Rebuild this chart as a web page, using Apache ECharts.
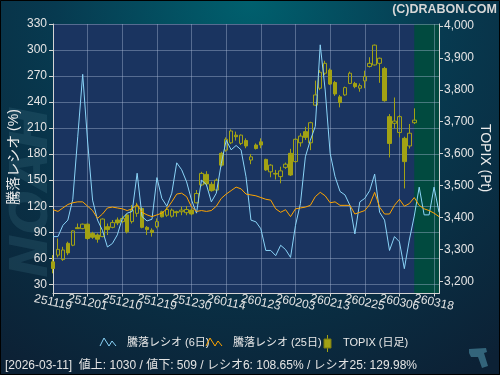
<!DOCTYPE html>
<html><head><meta charset="utf-8">
<script src="https://cdn.jsdelivr.net/npm/echarts@6/dist/echarts.min.js"></script>
<style>html,body{margin:0;padding:0;background:#0b2438}#c{width:500px;height:375px}</style>
</head><body><div id="c"></div>
<script>
// ---- data ----
const categories = [
 '251119','251120','251121','251125','251126','251127','251128',
 '251201','251202','251203','251204','251205','251208','251209',
 '251210','251211','251212','251215','251216','251217','251218',
 '251219','251222','251223','251224','251225','251226','251229',
 '251230','260105','260106','260107','260108','260109','260113',
 '260114','260115','260116','260119','260120','260121','260122',
 '260123','260126','260127','260128','260129','260130','260202',
 '260203','260204','260205','260206','260209','260210','260212',
 '260213','260216','260217','260218','260219','260220','260224',
 '260225','260226','260227','260302','260303','260304','260305',
 '260306','260309','260310','260311','260312','260313','260316',
 '260318','260319'
];
const ratio6 = [
 85,85,98,104,128,200,272,194,127,104,92,73,77,87,106,112,
 114,158,108,103,105,153,129,120,135,170,162,148,127,112,150,145,
 125,135,169,196,185,190,185,154,104,102,94,69,69,63,75,70,
 61,98,123,177,196,212,306,254,181,154,137,133,121,88,125,
 129,138,157,113,104,69,85,79,48,81,108.65,142,110,110,142,113
];
const ratio25 = [
 116,114,118,122,124,125,125,120,115,106,111,118,119,118,117,115,
 117,122,113,110,108,110,112,117,125,134,135,131,119,114,115,114,
 115,120,129,134,138,142,140,134,133,132,130,128,127,117,113,116,
 108,117,118,119,121,131,136,132,124,125,121,121,121,111,113,
 115,122,136,119,111,111,121,128,120,123,129.98,121,117,115,112,108
];
// [open, close, low, high]
const topixOHLC = [
 [3261,3240,3225,3282],[3282,3300,3275,3334],[3268,3298,3264,3308],[3319,3289,3282,3324],
 [3313,3358,3310,3360],[3368,3365,3364,3381],[3365,3379,3363,3381],[3379,3334,3330,3381],
 [3350,3338,3333,3355],[3345,3332,3321,3350],[3340,3395,3338,3397],[3371,3362,3345,3381],
 [3369,3384,3366,3392],[3392,3383,3376,3400],[3387,3397,3382,3405],[3408,3355,3350,3412],
 [3387,3423,3381,3439],[3413,3434,3402,3446],[3428,3369,3366,3432],[3369,3362,3345,3373],
 [3360,3353,3340,3366],[3371,3387,3366,3397],[3418,3402,3400,3421],[3407,3425,3402,3432],
 [3404,3423,3400,3428],[3418,3415,3402,3421],[3418,3423,3407,3434],[3415,3425,3407,3436],
 [3423,3411,3407,3428],[3446,3475,3444,3486],[3502,3538,3498,3543],[3535,3505,3498,3545],
 [3504,3484,3481,3512],[3486,3517,3481,3522],[3601,3564,3559,3606],[3611,3645,3606,3651],
 [3634,3671,3630,3676],[3658,3653,3641,3669],[3632,3658,3627,3660],[3641,3624,3617,3648],
 [3580,3590,3567,3599],[3627,3616,3613,3632],[3637,3627,3617,3648],[3582,3549,3546,3584],
 [3543,3564,3526,3567],[3538,3536,3519,3549],[3528,3546,3507,3559],[3557,3567,3552,3572],
 [3601,3533,3530,3615],[3575,3645,3572,3648],[3634,3655,3622,3664],[3669,3651,3643,3684],
 [3634,3697,3611,3700],[3752,3784,3749,3829],[3805,3855,3799,3862],[3852,3883,3846,3891],
 [3862,3818,3815,3867],[3823,3787,3781,3828],[3778,3760,3745,3784],[3784,3807,3781,3810],
 [3820,3852,3818,3857],[3820,3810,3805,3825],[3805,3813,3794,3820],[3828,3842,3805,3860],
 [3873,3883,3870,3902],[3878,3940,3876,3942],[3883,3899,3822,3901],[3867,3766,3763,3872],
 [3716,3632,3588,3724],[3695,3702,3679,3776],[3666,3716,3651,3721],[3648,3575,3491,3653],
 [3624,3664,3616,3693],[3697,3705,3693,3742]
];
const leftTicks = [30,60,90,120,150,180,210,240,270,300,330];
const rightTicks = [3200,3300,3400,3500,3600,3700,3800,3900,4000];
const statusDate = '2026-03-11';
const advances = 1030, declines = 509, lastR6 = '108.65', lastR25 = '129.98';
const seriesNames = ['騰落レシオ (6日)', '騰落レシオ (25日)', 'TOPIX (日足)'];

// ---- chart ----
const FONT = '"Liberation Sans", "Noto Sans CJK JP", sans-serif';
const GRIDC = 'rgba(170,185,215,0.42)';
const AXC = '#d4d4d4';
const CANDLE = '#a2a214';
const lastIdx = topixOHLC.length - 1;
const chart = echarts.init(document.getElementById('c'), null, {renderer: 'canvas'});
const fmtK = v => String(v).replace(/\B(?=(\d{3})+(?!\d))/g, ',');
const xLabelBase = {rotate: -12, align: 'center', verticalAlign: 'middle', margin: 9,
  color: '#e4e4e4', fontSize: 12, fontFamily: FONT};

const option = {
  animation: false,
  backgroundColor: {type: 'radial', x: 0.5, y: 0, r: 1.15, colorStops: [
    {offset: 0, color: '#00606e'}, {offset: 0.45, color: '#073a50'}, {offset: 1, color: '#0c2135'}]},
  grid: {left: 53, right: 61, top: 24, bottom: 81.5, show: true, backgroundColor: '#1a3460', borderWidth: 0, z: 0},
  xAxis: [
    {type: 'category', data: categories, boundaryGap: false, z: 2, position: 'bottom',
     axisLine: {lineStyle: {color: AXC, width: 1}},
     axisTick: {interval: 6, length: 3, lineStyle: {color: AXC}},
     axisLabel: Object.assign({interval: i => i % 14 === 0}, xLabelBase),
     splitLine: {show: true, interval: 6, lineStyle: {color: GRIDC, width: 1}}},
    {type: 'category', data: categories, boundaryGap: false, z: 2, position: 'bottom', offset: 0,
     axisLine: {show: false}, axisTick: {show: false}, splitLine: {show: false},
     axisLabel: Object.assign({interval: i => i % 14 === 7}, xLabelBase)}
  ],
  yAxis: [
    {type: 'value', min: 19.4, max: 330, position: 'left', z: 2,
     axisLine: {show: true, lineStyle: {color: AXC}},
     axisTick: {show: true, length: 4, customValues: leftTicks, lineStyle: {color: AXC}},
     axisLabel: {customValues: leftTicks, margin: 6, color: '#e4e4e4', fontSize: 12, fontFamily: FONT},
     splitLine: {show: true, lineStyle: {color: GRIDC, width: 1}}},
    {type: 'value', min: 3161.7, max: 4006.3, position: 'right', z: 2,
     axisLine: {show: true, lineStyle: {color: AXC}},
     axisTick: {show: true, length: 4, customValues: rightTicks, lineStyle: {color: AXC}},
     axisLabel: {customValues: rightTicks, margin: 5, color: '#e4e4e4', fontSize: 12, fontFamily: FONT, formatter: fmtK},
     splitLine: {show: false}}
  ],
  series: [
    {type: 'line', name: 'future', data: categories.map(() => null), z: 1, silent: true,
     markArea: {silent: true, itemStyle: {color: '#014a3f'},
       data: [[{xAxis: categories[lastIdx]}, {xAxis: categories[categories.length - 1]}]]}},
    {type: 'candlestick', name: seriesNames[2], yAxisIndex: 1, data: topixOHLC, barWidth: 4, z: 3,
     itemStyle: {color: 'rgba(0,0,0,0)', color0: CANDLE, borderColor: CANDLE, borderColor0: CANDLE, borderWidth: 1}},
    {type: 'line', name: seriesNames[0], data: ratio6, symbol: 'none', z: 4,
     lineStyle: {color: '#8ad4f8', width: 1}},
    {type: 'line', name: seriesNames[1], data: ratio25, symbol: 'none', z: 5,
     lineStyle: {color: '#ffa500', width: 1}}
  ],
  graphic: [
    {type: 'text', x: 33, y: 192, rotation: Math.PI / 2, z: -1, silent: true,
     style: {text: 'NOAH', fill: 'rgba(70,125,140,0.22)', font: 'italic bold 52px "DejaVu Sans"', align: 'center', verticalAlign: 'middle'}},
    {type: 'text', x: 497, y: 3, z: 10,
     style: {text: '(C)DRABON.COM', fill: '#d6d6d6', font: 'bold 12.5px ' + FONT, align: 'right', verticalAlign: 'top'}},
    {type: 'text', x: 14, y: 157, rotation: Math.PI / 2, z: 10,
     style: {text: '騰落レシオ (%)', fill: '#ececec', font: '14px ' + FONT, align: 'center', verticalAlign: 'middle'}},
    {type: 'text', x: 485, y: 158, rotation: -Math.PI / 2, z: 10,
     style: {text: 'TOPIX (Pt)', fill: '#ececec', font: '14px ' + FONT, align: 'center', verticalAlign: 'middle'}},
    // legend
    {type: 'polyline', z: 10, shape: {points: [[100, 346], [104, 338], [109, 346], [112, 341], [116, 346]]},
     style: {stroke: '#8ad4f8', lineWidth: 1, fill: null}},
    {type: 'text', x: 127, y: 343, z: 10,
     style: {text: seriesNames[0], fill: '#e8e8e8', font: '11px ' + FONT, verticalAlign: 'middle'}},
    {type: 'polyline', z: 10, shape: {points: [[206, 346], [210, 338], [215, 346], [218, 341], [222, 346]]},
     style: {stroke: '#ffa500', lineWidth: 1, fill: null}},
    {type: 'text', x: 233, y: 343, z: 10,
     style: {text: seriesNames[1], fill: '#e8e8e8', font: '11px ' + FONT, verticalAlign: 'middle'}},
    {type: 'line', z: 10, shape: {x1: 327.5, y1: 335, x2: 327.5, y2: 352}, style: {stroke: CANDLE, lineWidth: 1}},
    {type: 'rect', z: 11, shape: {x: 324, y: 339, width: 7, height: 9}, style: {fill: CANDLE, stroke: '#7a7a10', lineWidth: 1}},
    {type: 'text', x: 343, y: 343, z: 10,
     style: {text: seriesNames[2], fill: '#e8e8e8', font: '11px ' + FONT, verticalAlign: 'middle'}},
    // status line
    {type: 'text', x: 5, y: 366, z: 10,
     style: {text: '[' + statusDate + ']  値上: ' + advances + ' / 値下: ' + declines + ' / レシオ6: ' + lastR6 + '% / レシオ25: ' + lastR25 + '%',
       fill: '#e4e4e4', font: '12px ' + FONT, verticalAlign: 'middle'}},
    // corner icon
    {type: 'polygon', z: 10, silent: true,
     shape: {points: [[469, 349], [486, 348], [487, 352], [484, 353], [488, 366], [482, 368], [478, 357], [471, 357], [469, 353]]},
     style: {fill: '#33647a'}},
    // frame
    {type: 'rect', z: 20, silent: true, shape: {x: 0.5, y: 0.5, width: 499, height: 374},
     style: {fill: null, stroke: '#000', lineWidth: 1}}
  ]
};
chart.setOption(option);
</script>
</body></html>
